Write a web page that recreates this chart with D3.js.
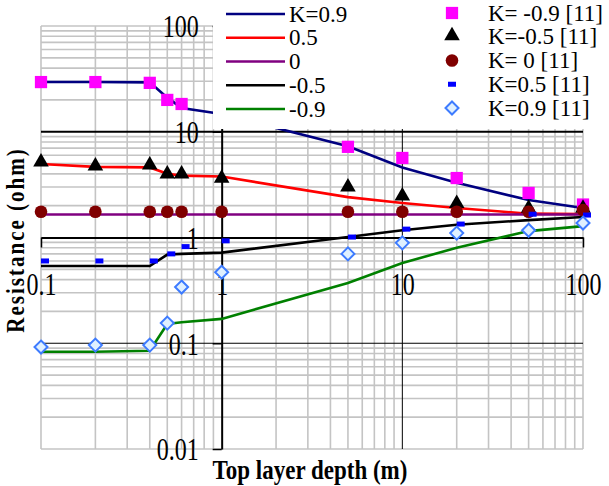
<!DOCTYPE html>
<html>
<head>
<meta charset="utf-8">
<title>Resistance vs top layer depth</title>
<style>
  body { margin: 0; background: #fff; }
  svg { display: block; }
</style>
</head>
<body>
<div id="chart"></div>
<script src="https://cdn.jsdelivr.net/npm/d3@7"></script>
<script>
// top layer depth (m)
const depth = [0.1, 0.2, 0.4, 0.5, 0.6, 1, 5, 10, 20, 50, 100];

// model curves
const lineK09  = [29.5, 29.5, 29.3, 21, 16.8, 14.7, 7.3, 4.6, 3.3, 2.26, 1.9];
const lineK05  = [4.95, 4.65, 4.6, 4.0, 3.85, 3.77, 2.41, 2.12, 1.9, 1.68, 1.67];
const lineK0   = [1.65, 1.65, 1.65, 1.65, 1.65, 1.65, 1.65, 1.65, 1.65, 1.65, 1.65];
const lineKm05 = [0.537, 0.537, 0.537, 0.69, 0.7, 0.72, 1.01, 1.17, 1.32, 1.46, 1.56];
const lineKm09 = [0.083, 0.083, 0.085, 0.152, 0.158, 0.17, 0.372, 0.574, 0.8, 1.15, 1.28];

// reference [11] points
const refKm09 = [29.5, 29.5, 29, 20, 18.3, 13, 7.2, 5.65, 3.65, 2.64, 2.05];
const refKm05 = [5.06, 4.65, 4.75, 3.9, 3.9, 3.55, 2.94, 2.41, 2.05, 1.85, 1.85];
const refK0   = [1.75, 1.75, 1.75, 1.75, 1.75, 1.75, 1.75, 1.75, 1.75, 1.75, 1.82];
const refK05  = [0.6, 0.6, 0.6, 0.7, 0.82, 0.93, 1.01, 1.2, 1.34, 1.66, 1.63];
const refK09  = [0.092, 0.096, 0.096, 0.155, 0.34, 0.47, 0.7, 0.89, 1.1, 1.17, 1.37];

const xTicks = [0.1, 1, 10, 100];
const yTicks = [0.01, 0.1, 1, 10, 100];

const lineNames = ["K=0.9", "0.5", "0", "-0.5", "-0.9"];
const refNames = ["K= -0.9 [11]", "K=-0.5 [11]", "K= 0 [11]", "K=0.5 [11]", "K=0.9 [11]"];

const W = 609, H = 486;
const serif = "'Liberation Serif', 'Times New Roman', serif";

const svg = d3.select("#chart").append("svg")
    .attr("width", W)
    .attr("height", H);

const x = d3.scaleLog().domain([0.1, 100]).range([41, 583]);
const y = d3.scaleLog().domain([0.01, 100]).range([449, 26]);

// grid
const grid = svg.append("g");
const minorX = [], minorY = [];
[0.1, 1, 10].forEach(d => { for (let i = 2; i <= 9; i++) minorX.push(d * i); });
[0.01, 0.1, 1, 10].forEach(d => { for (let i = 2; i <= 9; i++) minorY.push(d * i); });

grid.selectAll(".vx").data(minorX.concat([0.1, 100])).enter().append("line")
    .attr("x1", d => x(d)).attr("x2", d => x(d))
    .attr("y1", y(0.01)).attr("y2", y(100))
    .attr("stroke", "#c4c4c4").attr("stroke-width", 1.6);
grid.selectAll(".hy").data(minorY.concat([0.01, 100])).enter().append("line")
    .attr("x1", x(0.1)).attr("x2", x(100))
    .attr("y1", d => y(d)).attr("y2", d => y(d))
    .attr("stroke", "#c4c4c4").attr("stroke-width", 1.6);

// major lines
grid.append("line")
    .attr("x1", x(10)).attr("x2", x(10))
    .attr("y1", y(0.01)).attr("y2", y(100))
    .attr("stroke", "#000").attr("stroke-width", 1);
grid.selectAll(".hmaj").data([10, 0.1]).enter().append("line")
    .attr("x1", x(0.1)).attr("x2", x(100))
    .attr("y1", d => y(d)).attr("y2", d => y(d))
    .attr("stroke", "#000").attr("stroke-width", d => d === 10 ? 1.8 : 1.2);

// axes
const xAxis = svg.append("g")
    .attr("transform", `translate(0,${y(1)})`)
    .call(d3.axisBottom(x).tickValues(xTicks).tickSize(10).tickSizeOuter(0));
const yAxis = svg.append("g")
    .attr("transform", `translate(${x(1)},0)`)
    .call(d3.axisLeft(y).tickValues(yTicks).tickSize(9).tickSizeOuter(0).tickPadding(14));

[xAxis, yAxis].forEach(a => {
    a.select(".domain").attr("stroke", "#000").attr("stroke-width", 2);
    a.selectAll(".tick line").attr("stroke", "#000").attr("stroke-width", 1.5);
    a.selectAll("text")
        .attr("font-family", serif)
        .attr("font-size", 24)
        .attr("fill", "#000")
        .attr("dominant-baseline", "central")
        .attr("dy", null);
});
xAxis.selectAll("text").text(d => d)
    .attr("y", null)
    .attr("transform", "translate(0,47) scale(1,1.35)");
yAxis.selectAll("text").text(d => d)
    .attr("x", null)
    .attr("transform", "translate(-23,0) scale(1,1.35)");

// model lines
const curves = [
    { v: lineK09, c: "#000080" },
    { v: lineK05, c: "#ff0000" },
    { v: lineK0, c: "#800080" },
    { v: lineKm05, c: "#000000" },
    { v: lineKm09, c: "#008000" }
];
const line = d3.line()
    .x(d => x(d[0]))
    .y(d => y(d[1]));

svg.append("g").selectAll("path").data(curves).enter().append("path")
    .attr("d", d => line(depth.map((t, i) => [t, d.v[i]])))
    .attr("fill", "none")
    .attr("stroke", d => d.c)
    .attr("stroke-width", 2.6);

// markers
const sq = d3.symbol().type(d3.symbolSquare).size(150)();
const tri = d3.symbol().type(d3.symbolTriangle).size(105)();
const circ = d3.symbol().type(d3.symbolCircle).size(125)();
const dia = "M0,-6.5L6.5,0L0,6.5L-6.5,0Z";

function drawMarker(g, kind) {
    if (kind === 0) g.append("path").attr("d", sq).attr("fill", "#ff00ff");
    if (kind === 1) g.append("path").attr("d", tri).attr("fill", "#000").attr("transform", "translate(0,-1)");
    if (kind === 2) g.append("path").attr("d", circ).attr("fill", "#800000");
    if (kind === 3) g.append("rect").attr("x", 0).attr("y", -2.5).attr("width", 8).attr("height", 5).attr("fill", "#0000ff");
    if (kind === 4) g.append("path").attr("d", dia).attr("fill", "#dff0ff")
        .attr("stroke", "#3d7bff").attr("stroke-width", 2);
}

const refs = [refKm09, refKm05, refK0, refK05, refK09];
refs.forEach((vals, k) => {
    const g = svg.append("g");
    depth.forEach((t, i) => {
        const m = g.append("g").attr("transform", `translate(${x(t)},${y(vals[i])})`);
        drawMarker(m, k);
    });
});

// legend
const leg = svg.append("g");
leg.append("rect")
    .attr("x", 213).attr("y", 0)
    .attr("width", W - 213).attr("height", 129)
    .attr("fill", "#fff");

const rowY = d3.scaleLinear().domain([0, 4]).range([14, 109]);

lineNames.forEach((name, i) => {
    leg.append("line")
        .attr("x1", 226).attr("x2", 285)
        .attr("y1", rowY(i)).attr("y2", rowY(i))
        .attr("stroke", curves[i].c).attr("stroke-width", 2.6);
    leg.append("text")
        .attr("x", 289).attr("y", rowY(i))
        .attr("dominant-baseline", "central")
        .attr("font-family", serif).attr("font-size", 23)
        .text(name);
});

refNames.forEach((name, i) => {
    const m = leg.append("g").attr("transform", `translate(${i === 3 ? 448 : 452},${rowY(i) - 1})`);
    drawMarker(m, i);
    leg.append("text")
        .attr("x", 488).attr("y", rowY(i) - 1)
        .attr("dominant-baseline", "central")
        .attr("font-family", serif).attr("font-size", 23)
        .text(name);
});

// axis titles
svg.append("text")
    .attr("transform", "translate(310,470) scale(1,1.18)")
    .attr("text-anchor", "middle")
    .attr("dominant-baseline", "central")
    .attr("font-family", serif).attr("font-size", 23).attr("font-weight", "bold")
    .text("Top layer depth (m)");

svg.append("text")
    .attr("transform", "translate(15,240) rotate(-90) scale(1,1.2)")
    .attr("text-anchor", "middle")
    .attr("dominant-baseline", "central")
    .attr("font-family", serif).attr("font-size", 21).attr("font-weight", "bold")
    .attr("letter-spacing", 2)
    .text("Resistance (ohm)");
</script>
</body>
</html>
